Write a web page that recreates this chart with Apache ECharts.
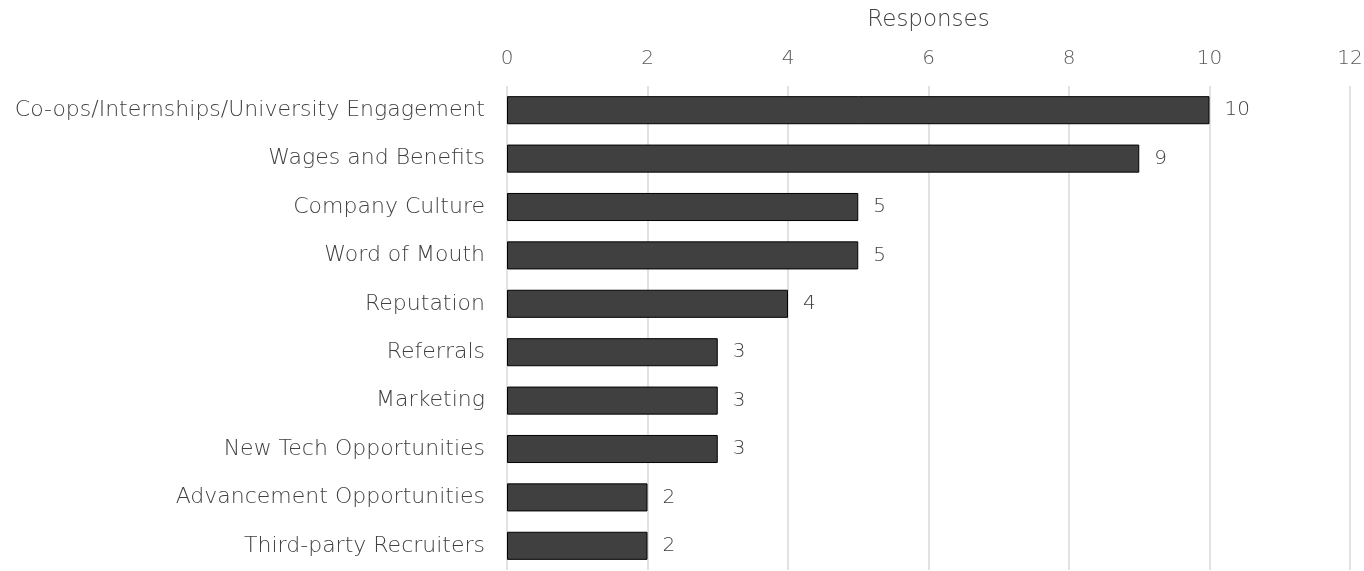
<!DOCTYPE html>
<html>
<head>
<meta charset="utf-8">
<script src="https://cdn.jsdelivr.net/npm/echarts@6/dist/echarts.min.js"></script>
<style>
  html, body { margin: 0; padding: 0; background: #fff; }
  #chart { width: 1364px; height: 571px; }
</style>
</head>
<body>
<div id="chart"></div>
<script>
// Recruitment factors, listed top to bottom
const categories = [
  'Co-ops/Internships/University Engagement',
  'Wages and Benefits',
  'Company Culture',
  'Word of Mouth',
  'Reputation',
  'Referrals',
  'Marketing',
  'New Tech Opportunities',
  'Advancement Opportunities',
  'Third-party Recruiters'
];
const responses = [10, 9, 5, 5, 4, 3, 3, 3, 2, 2];
const axisTitle = 'Responses';

const FONT = '"DejaVu Sans", sans-serif';
const chart = echarts.init(document.getElementById('chart'));
chart.setOption({
  animation: false,
  textStyle: { fontFamily: FONT },
  grid: {
    left: 507, right: 14, top: 86, bottom: 1,
    containLabel: false,
    outerBoundsMode: 'none'
  },
  xAxis: {
    type: 'value',
    position: 'top',
    min: 0, max: 12, interval: 2,
    name: axisTitle,
    nameLocation: 'middle',
    nameGap: 54,
    nameTextStyle: { fontFamily: FONT, fontWeight: 200, fontSize: 23, color: '#404040' },
    axisLine: { show: false },
    axisTick: { show: false },
    axisLabel: { fontFamily: FONT, fontWeight: 200, fontSize: 20, color: '#595959', margin: 17 },
    splitLine: { show: true, lineStyle: { color: '#d9d9d9', width: 1.5 } }
  },
  yAxis: {
    type: 'category',
    data: categories,
    inverse: true,
    axisLine: { show: false },
    axisTick: { show: false },
    axisLabel: { fontFamily: FONT, fontWeight: 200, fontSize: 22, color: '#404040', margin: 22 }
  },
  series: [{
    type: 'bar',
    data: responses,
    barWidth: '58%',
    itemStyle: { color: '#404040', borderColor: '#000', borderWidth: 1 },
    label: {
      show: true, position: 'right', distance: 15,
      fontFamily: FONT, fontWeight: 200, fontSize: 20, color: '#404040'
    }
  }]
});
</script>
</body>
</html>
